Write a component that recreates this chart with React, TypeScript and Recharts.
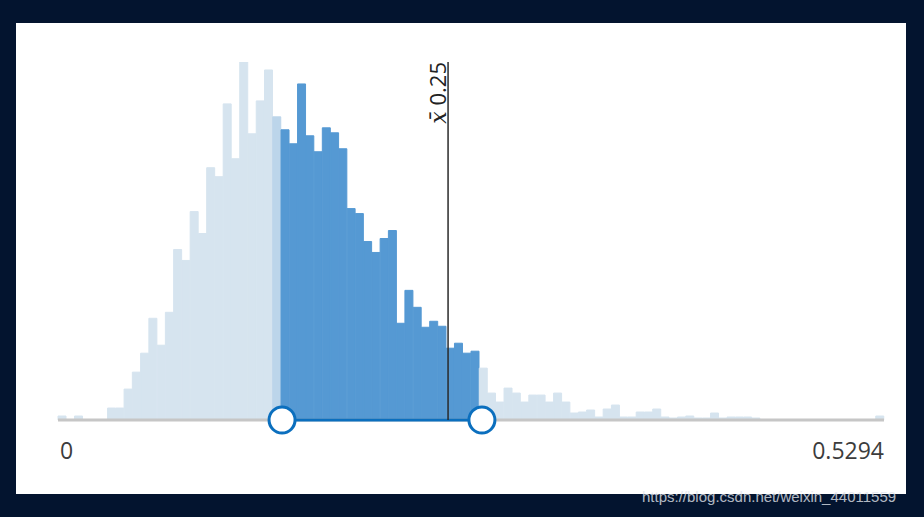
import React from 'react';
import { BarChart, Bar, Cell, XAxis, YAxis, ReferenceLine, ReferenceDot } from 'recharts';

// histogram range and markers
const X_MAX = 0.5294;
const MEAN = 0.25;
const SEL_LO = 0.1436;
const SEL_HI = 0.2717;
const TICKS = [0, 0.5294];
const TICK_LABELS = ['0', '0.5294'];

// bin counts, 100 equal bins from 0 to X_MAX
const counts = [
  4, 0, 4, 0, 0, 0, 12, 12, 31, 48,
  67, 102, 75, 108, 171, 160, 209, 187, 253, 244,
  317, 262, 359, 287, 320, 351, 304, 291, 277, 337,
  285, 269, 293, 288, 272, 212, 207, 179, 168, 182,
  190, 97, 130, 113, 93, 99, 94, 72, 77, 67,
  69, 52, 27, 18, 32, 27, 18, 25, 25, 18,
  27, 18, 7, 8, 10, 3, 11, 15, 3, 3,
  8, 8, 11, 3, 2, 3, 4, 2, 2, 7,
  2, 3, 3, 3, 2, 0, 0, 0, 0, 0,
  0, 0, 0, 0, 0, 0, 0, 0, 0, 4,
];

const BIN = X_MAX / counts.length;
const data = counts.map((count, i) => ({ bin: (i * BIN).toFixed(4), mid: (i + 0.5) * BIN, count }));
const firstSel = data.findIndex((d) => d.mid >= SEL_LO);

const LIGHT = '#d6e4ef';
const EDGE = '#bcd5ea';
const DARK = '#5599d3';
const HANDLE = '#0b6fbe';

function barColor(i: number, mid: number) {
  if (mid >= SEL_LO && mid <= SEL_HI) return DARK;
  if (i === firstSel - 1) return EDGE;
  return LIGHT;
}

const EdgeTick = (props: any) => {
  const { x, y, payload } = props;
  const first = payload.value === 0;
  const label = TICK_LABELS[TICKS.indexOf(payload.value)];
  return (
    <text
      x={first ? x + 2 : x}
      y={y + 1}
      textAnchor={first ? 'start' : 'end'}
      fill="#3c3c3c"
      fontSize={23}
      fontFamily="'Open Sans', sans-serif"
    >
      {label}
    </text>
  );
};

const MeanLabel = (props: any) => {
  const { viewBox } = props;
  if (!viewBox) return null;
  const x = viewBox.x - 2;
  const y = viewBox.y;
  return (
    <text
      x={x}
      y={y}
      transform={`rotate(-90, ${x}, ${y})`}
      textAnchor="end"
      fill="#222"
      fontSize={22}
      fontFamily="'Open Sans', sans-serif"
    >
      <tspan fontFamily="'DejaVu Serif', serif" fontStyle="italic">{'x\u0304'}</tspan>
      {' ' + MEAN}
    </text>
  );
};

export default function App() {
  return (
    <div style={{ position: 'absolute', left: 0, top: 0, width: 924, height: 517, background: '#03142f', overflow: 'hidden' }}>
      <div style={{ position: 'absolute', left: 16, top: 23, width: 890, height: 471, background: '#ffffff' }} />
      <div style={{ position: 'absolute', left: 0, top: 0 }}>
        <BarChart
          width={924}
          height={517}
          data={data}
          margin={{ top: 62, right: 40, left: 58, bottom: 67 }}
          barCategoryGap={0}
          barGap={0}
        >
          <XAxis dataKey="bin" hide />
          <XAxis
            xAxisId="num"
            dataKey="mid"
            type="number"
            domain={[0, X_MAX]}
            allowDataOverflow
            ticks={TICKS}
            axisLine={false}
            tickLine={false}
            tick={<EdgeTick />}
            height={30}
          />
          <YAxis hide domain={[0, 359]} allowDataOverflow />
          <Bar dataKey="count" isAnimationActive={false}>
            {data.map((d, i) => {
              const c = barColor(i, d.mid);
              return <Cell key={d.bin} fill={c} stroke={c} strokeWidth={1} />;
            })}
          </Bar>
          <ReferenceLine
            xAxisId="num"
            segment={[{ x: 0, y: 0 }, { x: X_MAX, y: 0 }]}
            stroke="#c6c6c6"
            strokeWidth={3}
            ifOverflow="visible"
          />
          <ReferenceLine
            xAxisId="num"
            segment={[{ x: SEL_LO, y: 0 }, { x: SEL_HI, y: 0 }]}
            stroke={HANDLE}
            strokeWidth={3}
            ifOverflow="visible"
          />
          <ReferenceLine xAxisId="num" x={MEAN} stroke="#2a2a2a" strokeWidth={1.5} label={<MeanLabel />} />
          <ReferenceDot xAxisId="num" x={SEL_LO} y={0} r={13} fill="#ffffff" stroke={HANDLE} strokeWidth={3} ifOverflow="visible" />
          <ReferenceDot xAxisId="num" x={SEL_HI} y={0} r={13} fill="#ffffff" stroke={HANDLE} strokeWidth={3} ifOverflow="visible" />
        </BarChart>
      </div>
      <div
        style={{
          position: 'absolute',
          left: 642,
          top: 488,
          fontFamily: "'Liberation Sans', Arial, sans-serif",
          fontSize: 15,
          color: 'rgba(225,229,236,0.8)',
          whiteSpace: 'nowrap',
        }}
      >
        https://blog.csdn.net/weixin_44011559
      </div>
    </div>
  );
}
